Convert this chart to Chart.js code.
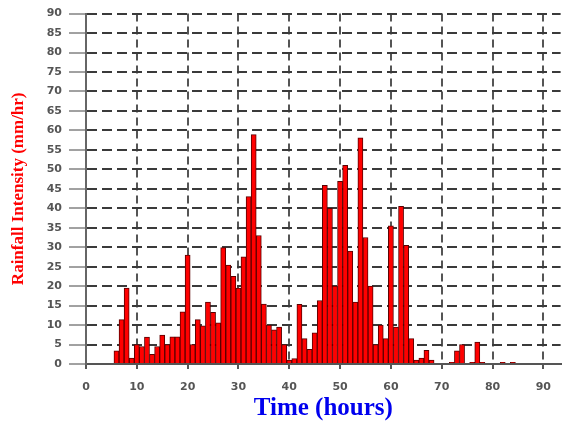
<!DOCTYPE html>
<html>
<head>
<meta charset="utf-8">
<script src="https://cdn.jsdelivr.net/npm/chart.js@4.4.1/dist/chart.umd.min.js"></script>
<style>
  html, body { margin: 0; padding: 0; background: #fff; }
  #wrap { width: 563px; height: 425px; position: relative; }
</style>
</head>
<body>
<div id="wrap"><canvas id="chart"></canvas></div>
<script>
// hourly rainfall
const hours = [6, 7, 8, 9, 10, 11, 12, 13, 14, 15, 16, 17, 18, 19, 20,
    21, 22, 23, 24, 25, 26, 27, 28, 29, 30, 31, 32, 33, 34, 35,
    36, 37, 38, 39, 40, 41, 42, 43, 44, 45, 46, 47, 48, 49, 50,
    51, 52, 53, 54, 55, 56, 57, 58, 59, 60, 61, 62, 63, 64, 65,
    66, 67, 68, 69, 70, 71, 72, 73, 74, 75, 76, 77, 78, 79, 80,
    81, 82, 83, 84];
const rainfall = [3.4, 11.4, 19.5, 1.5, 5.0, 4.5, 6.9, 2.5, 4.5, 7.4, 5.0, 7.0, 7.0, 13.4, 28.0,
    5.0, 11.4, 9.8, 15.9, 13.3, 10.6, 29.9, 25.4, 22.5, 19.5, 27.5, 43.0, 58.9, 33.0, 15.4,
    10.0, 8.8, 9.5, 5.0, 1.0, 1.4, 15.3, 6.5, 3.8, 8.0, 16.3, 45.9, 40.0, 20.0, 46.9,
    51.0, 29.0, 15.9, 58.1, 32.5, 20.0, 5.0, 10.0, 6.5, 35.5, 9.5, 40.5, 30.5, 6.5, 1.0,
    1.5, 3.5, 1.0, 0, 0, 0, 0.4, 3.4, 5.0, 0, 0.4, 5.6, 0.4, 0, 0,
    0, 0.4, 0, 0.4];
const xTicks = [0, 10, 20, 30, 40, 50, 60, 70, 80, 90];
const yTicks = [0, 5, 10, 15, 20, 25, 30, 35, 40, 45, 50, 55, 60, 65, 70, 75, 80, 85, 90];

const tickFont = { family: 'DejaVu Sans', size: 11, weight: 'bold' };

new Chart(document.getElementById('chart'), {
    type: 'bar',
    data: {
        datasets: [{
            data: hours.map((h, i) => ({ x: h, y: rainfall[i] })),
            backgroundColor: '#FF0000',
            borderColor: '#5a0000',
            borderWidth: 1,
            borderSkipped: 'bottom',
            barPercentage: 1,
            categoryPercentage: 1
        }]
    },
    options: {
        responsive: true,
        maintainAspectRatio: false,
        animation: false,
        layout: { padding: { top: 8, left: 0, right: 0, bottom: 0 } },
        plugins: { legend: { display: false }, tooltip: { enabled: false } },
        scales: {
            x: {
                type: 'linear',
                min: 0,
                max: 93.4,
                offset: false,
                afterBuildTicks: s => { s.ticks = xTicks.map(v => ({ value: v })); },
                afterFit: s => { s.height = 61; },
                grid: { offset: false, color: '#555', lineWidth: 2, tickLength: 5, tickColor: '#555', tickWidth: 2 },
                border: { display: true, color: '#555', width: 2, dash: [8, 5] },
                ticks: { font: tickFont, color: '#555', padding: 12, maxRotation: 0 },
                title: {
                    display: true,
                    text: 'Time (hours)',
                    color: '#0000EE',
                    font: { family: 'Liberation Serif', size: 25, weight: 'bold' },
                    padding: { top: 0, bottom: 1 }
                }
            },
            y: {
                min: 0,
                max: 90,
                afterBuildTicks: s => { s.ticks = yTicks.map(v => ({ value: v })); },
                afterFit: s => { s.width = 86; },
                grid: { color: '#3a3a3a', lineWidth: 2, tickLength: 17, tickColor: '#444', tickWidth: 1 },
                border: { display: true, color: '#666', width: 2, dash: [10, 5] },
                ticks: { font: tickFont, color: '#555', padding: 7 },
                title: {
                    display: true,
                    text: 'Rainfall Intensity (mm/hr)',
                    color: '#FF0000',
                    font: { family: 'Liberation Serif', size: 17, weight: 'bold' },
                    padding: { top: 8, bottom: 0 }
                }
            }
        }
    }
});
</script>
</body>
</html>
